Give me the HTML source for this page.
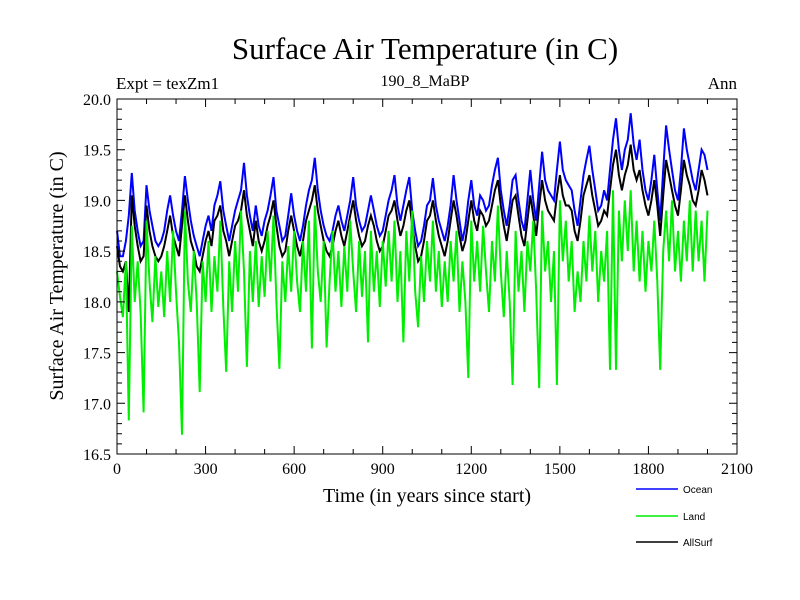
<!DOCTYPE html>
<html><head><meta charset="utf-8"><style>
body{margin:0;background:#fff}
svg{display:block;font-family:"Liberation Serif",serif}
</style></head><body>
<svg id="chart" width="800" height="600" viewBox="0 0 800 600">
<text x="425" y="59" font-size="31" text-anchor="middle">Surface Air Temperature (in C)</text>
<text x="116" y="89" font-size="17">Expt = texZm1</text>
<text x="425" y="86" font-size="16" text-anchor="middle">190_8_MaBP</text>
<text x="737" y="89" font-size="17" text-anchor="end">Ann</text>
<g id="series"></g>
<g id="axes"></g>
<text x="427" y="502" font-size="20" text-anchor="middle">Time (in years since start)</text>
<text transform="translate(63,276) rotate(-90)" font-size="20" text-anchor="middle">Surface Air Temperature (in C)</text>
<g>
<g><line x1="636" y1="489" x2="678" y2="489" stroke="#0000ff" stroke-width="1.5"/><text x="683" y="493" font-size="10" font-family="Liberation Sans,sans-serif">Ocean</text></g>
<g><line x1="636" y1="516" x2="678" y2="516" stroke="#00ee00" stroke-width="1.5"/><text x="683" y="520" font-size="10" font-family="Liberation Sans,sans-serif">Land</text></g>
<g><line x1="636" y1="542" x2="678" y2="542" stroke="#000" stroke-width="1.5"/><text x="683" y="546" font-size="10" font-family="Liberation Sans,sans-serif">AllSurf</text></g>
</g>
</svg>
<script>
const years = [];
for (let y = 0; y <= 2000; y += 10) years.push(y);
const ocean = [18.7,18.45,18.45,18.6,18.85,19.27,18.9,18.7,18.55,18.6,19.15,18.9,18.75,18.6,18.55,18.6,18.7,18.9,19.05,18.85,18.7,18.6,18.9,19.24,19.0,18.8,18.65,18.55,18.45,18.6,18.75,18.85,18.7,18.95,19.05,19.19,18.9,18.75,18.6,18.75,18.9,19.0,19.1,19.37,19.05,18.85,18.7,18.95,18.75,18.65,18.8,18.9,19.05,19.23,18.9,18.75,18.6,18.65,18.85,19.07,18.85,18.7,18.6,18.75,18.95,19.1,19.2,19.42,19.1,18.9,18.75,18.65,18.6,18.7,18.85,18.95,18.8,18.7,18.85,19.0,19.23,18.95,18.8,18.7,18.75,18.9,19.05,18.9,18.75,18.65,18.7,18.85,19.0,19.1,19.25,18.95,18.8,18.95,19.1,19.23,18.9,18.7,18.55,18.6,18.75,18.95,19.0,19.22,18.95,18.8,18.7,18.6,18.75,18.95,19.25,19.0,18.8,18.6,18.75,19.0,19.2,18.95,18.85,19.05,19.0,18.9,18.95,19.15,19.3,19.42,19.1,18.9,18.75,18.95,19.2,19.25,19.0,18.8,18.7,19.0,19.3,19.0,18.8,19.15,19.48,19.2,19.1,19.05,19.0,19.3,19.58,19.3,19.2,19.15,19.1,18.9,18.75,19.0,19.25,19.4,19.54,19.3,19.1,18.9,18.95,19.1,19.0,19.3,19.6,19.81,19.5,19.3,19.5,19.6,19.86,19.55,19.4,19.6,19.3,19.1,19.0,19.2,19.45,19.1,18.8,19.3,19.74,19.5,19.3,19.1,19.0,19.3,19.71,19.5,19.35,19.2,19.1,19.3,19.5,19.45,19.3];
const allsurf = [18.55,18.35,18.3,18.4,17.9,19.05,18.75,18.55,18.4,18.45,18.95,18.7,18.55,18.45,18.4,18.45,18.55,18.7,18.85,18.65,18.55,18.45,18.75,19.05,18.8,18.6,18.5,18.35,18.3,18.45,18.6,18.7,18.55,18.8,18.85,18.95,18.7,18.6,18.45,18.6,18.75,18.8,18.9,19.1,18.85,18.7,18.55,18.8,18.6,18.5,18.6,18.75,18.85,19.0,18.75,18.55,18.45,18.5,18.7,18.85,18.7,18.55,18.45,18.6,18.8,18.9,19.0,19.15,18.9,18.75,18.6,18.5,18.45,18.55,18.7,18.8,18.65,18.55,18.7,18.85,19.0,18.8,18.65,18.55,18.6,18.75,18.85,18.75,18.6,18.5,18.55,18.7,18.85,18.9,19.0,18.8,18.65,18.75,18.9,19.0,18.75,18.55,18.4,18.45,18.6,18.8,18.85,19.0,18.8,18.65,18.55,18.45,18.6,18.8,19.0,18.85,18.65,18.5,18.6,18.8,19.0,18.8,18.7,18.9,18.85,18.75,18.8,18.95,19.1,19.2,18.95,18.75,18.6,18.8,19.0,19.05,18.85,18.65,18.55,18.8,19.05,18.85,18.65,18.95,19.2,19.0,18.9,18.85,18.8,19.05,19.25,19.05,18.95,18.95,18.9,18.7,18.6,18.8,19.05,19.15,19.25,19.05,18.9,18.75,18.8,18.9,18.85,19.1,19.35,19.5,19.25,19.1,19.25,19.35,19.55,19.3,19.2,19.3,19.1,18.95,18.85,19.0,19.2,18.95,18.65,19.05,19.4,19.25,19.1,18.95,18.85,19.1,19.4,19.25,19.15,19.0,18.95,19.1,19.3,19.2,19.05];
const land = [18.3,18.05,17.85,18.4,16.83,18.75,18.0,18.4,17.9,16.91,18.8,18.2,17.8,18.45,17.95,18.3,17.85,18.5,18.0,18.7,18.1,17.6,16.69,18.9,18.2,17.9,18.5,18.0,17.11,18.4,18.0,18.6,17.9,18.45,18.1,18.8,17.95,17.31,18.4,17.9,18.6,18.1,18.9,18.3,17.36,18.5,18.0,18.6,17.95,18.45,18.05,18.7,18.2,18.85,18.0,17.34,18.4,18.0,18.55,18.1,18.7,18.2,17.9,18.6,18.1,18.8,17.54,18.95,18.3,18.0,18.6,17.55,18.2,18.7,18.1,18.5,17.95,18.55,18.1,18.8,18.3,17.9,18.6,18.05,18.5,17.6,18.7,18.1,18.5,17.95,18.6,18.15,18.7,18.2,18.8,18.0,18.5,17.6,18.7,18.2,18.9,18.1,17.75,18.45,18.0,18.6,18.2,18.8,18.1,18.5,17.95,18.4,18.0,18.6,18.2,18.7,17.9,18.4,18.0,17.25,18.8,18.2,18.6,18.1,18.75,18.3,17.9,18.6,18.2,18.95,18.3,17.85,18.5,18.0,17.18,18.7,18.1,18.5,17.9,18.6,18.3,18.8,18.1,17.15,18.9,18.3,18.6,18.0,18.5,17.18,19.0,18.4,18.8,18.2,18.6,17.9,18.3,18.0,18.6,18.2,18.85,18.3,18.7,18.0,18.5,18.2,18.7,17.33,19.1,17.33,18.9,18.4,19.0,18.5,19.1,18.3,18.8,18.2,18.7,18.1,18.6,18.3,18.8,18.2,17.33,18.5,18.9,18.4,19.0,18.3,18.7,18.2,18.8,18.4,19.0,18.3,18.9,18.4,18.8,18.2,18.9];
const yTicks = [16.5,17.0,17.5,18.0,18.5,19.0,19.5,20.0];
const xTicks = [0,300,600,900,1200,1500,1800,2100];

const L=117,R=737,T=99,B=454;
const xs = v => L + v/2100*(R-L);
const ys = v => B - (v-16.5)/3.5*(B-T);
const NS="http://www.w3.org/2000/svg";
const sg=document.getElementById('series'), ag=document.getElementById('axes');
function mk(tag,attrs,parent){const e=document.createElementNS(NS,tag);for(const k in attrs)e.setAttribute(k,attrs[k]);parent.appendChild(e);return e;}
function line(vals,color,name){
  const pts=vals.map((v,i)=>xs(years[i]).toFixed(1)+','+ys(v).toFixed(1)).join(' ');
  const p=mk('polyline',{points:pts,fill:'none',stroke:color,'stroke-width':2,'stroke-linejoin':'miter'},sg);
  
  
}
line(ocean,'#0000ff','ocean-line');
line(allsurf,'#000000','allsurf-line');
line(land,'#00ee00','land-line');

const fr=mk('rect',{x:L,y:T,width:R-L,height:B-T,fill:'none',stroke:'#000','stroke-width':1},ag);


let d='';
for(let v=0;v<=2100;v+=100){const x=xs(v);const len=v%300===0?8:5;d+=`M${x},${B}v${-len}M${x},${T}v${len}`;}
for(let i=0;i<=35;i++){const y=ys(16.5+i*0.1);const len=i%5===0?8:5;d+=`M${L},${y}h${len}M${R},${y}h${-len}`;}
const tk=mk('path',{d:d,stroke:'#000','stroke-width':1,fill:'none'},ag);


xTicks.forEach(v=>{const t=mk('text',{x:xs(v),y:B+20,'font-size':16,'text-anchor':'middle'},ag);t.textContent=v;

});
yTicks.forEach(v=>{const t=mk('text',{x:L-6,y:ys(v)+6,'font-size':16,'text-anchor':'end'},ag);t.textContent=v.toFixed(1);

});
</script>
</body></html>
